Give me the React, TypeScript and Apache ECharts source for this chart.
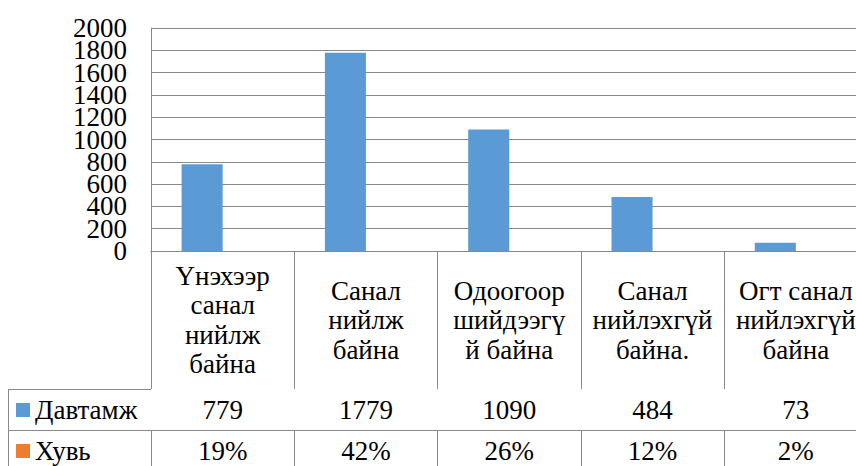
import React, { useEffect, useRef } from "react";
import * as echarts from "echarts";

const categories = [
  "Үнэхээр\nсанал\nнийлж\nбайна",
  "Санал\nнийлж\nбайна",
  "Одоогоор\nшийдээгү\nй байна",
  "Санал\nнийлэхгүй\nбайна.",
  "Огт санал\nнийлэхгүй\nбайна",
];
const davtamj = [779, 1779, 1090, 484, 73];
const huvi = [19, 42, 26, 12, 2];
const seriesNames = ["Давтамж", "Хувь"];
const yTicks = { min: 0, max: 2000, interval: 200 };
const yLabelsEven = [0, 400, 800, 1200, 1600, 2000];
const yLabelsOdd = [200, 600, 1000, 1400, 1800];

const FONT = "Liberation Serif";
const GRID = "#898989";

export default function App() {
  const ref = useRef<HTMLDivElement>(null);
  useEffect(() => {
    if (!ref.current) return;
    const chart = echarts.init(ref.current, null, { renderer: "svg" });
    const labelBase = {
      fontFamily: FONT,
      fontSize: 27,
      color: "#000",
      interval: 0,
      verticalAlign: "middle" as const,
    };
    const yLabel = (vals: number[]) => ({
      fontFamily: FONT,
      fontSize: 27,
      color: "#000",
      margin: 24,
      customValues: vals,
      showMinLabel: true,
      showMaxLabel: true,
      formatter: (v: number) => String(v),
    });
    chart.setOption({
      animation: false,
      textStyle: { fontFamily: FONT },
      grid: {
        left: 151,
        top: 28,
        right: 12.5,
        bottom: 215,
        containLabel: false,
        outerBoundsMode: "none",
      },
      legend: {
        orient: "vertical",
        left: 16,
        top: 396.5,
        padding: 0,
        itemGap: 14,
        itemWidth: 14,
        itemHeight: 14,
        icon: "rect",
        selectedMode: false,
        textStyle: { fontFamily: FONT, fontSize: 27, color: "#000", lineHeight: 27 },
        data: seriesNames,
      },
      xAxis: [
        {
          type: "category",
          data: categories,
          position: "bottom",
          axisLine: { show: true, lineStyle: { color: GRID, width: 1 } },
          axisTick: { show: true, length: 138, lineStyle: { color: GRID } },
          axisLabel: { ...labelBase, lineHeight: 29.5, margin: 69 },
        },
        {
          type: "category",
          data: categories,
          position: "bottom",
          offset: 138,
          axisLine: { show: true, lineStyle: { color: GRID, width: 1 } },
          axisTick: { show: true, length: 41, lineStyle: { color: GRID } },
          axisLabel: {
            ...labelBase,
            margin: 20.5,
            formatter: (_v: string, i: number) => String(davtamj[i]),
          },
        },
        {
          type: "category",
          data: categories,
          position: "bottom",
          offset: 179,
          axisLine: { show: true, lineStyle: { color: GRID, width: 1 } },
          axisTick: { show: true, length: 50, lineStyle: { color: GRID } },
          axisLabel: {
            ...labelBase,
            margin: 20.5,
            formatter: (_v: string, i: number) => `${huvi[i]}%`,
          },
        },
      ],
      yAxis: [
        {
          type: "value",
          position: "left",
          min: yTicks.min,
          max: yTicks.max,
          interval: yTicks.interval,
          axisLine: { show: true, lineStyle: { color: GRID } },
          axisTick: { show: false },
          splitLine: { show: true, lineStyle: { color: GRID, width: 1 } },
          axisLabel: yLabel(yLabelsEven),
        },
        {
          type: "value",
          position: "left",
          min: yTicks.min,
          max: yTicks.max,
          interval: yTicks.interval,
          axisLine: { show: false },
          axisTick: { show: false },
          splitLine: { show: false },
          axisLabel: yLabel(yLabelsOdd),
        },
      ],
      graphic: [
        { type: "line", shape: { x1: 8, y1: 389.5, x2: 151, y2: 389.5 }, style: { stroke: GRID, lineWidth: 1 } },
        { type: "line", shape: { x1: 8, y1: 430.5, x2: 151, y2: 430.5 }, style: { stroke: GRID, lineWidth: 1 } },
        { type: "line", shape: { x1: 8.5, y1: 389, x2: 8.5, y2: 470 }, style: { stroke: GRID, lineWidth: 1 } },
      ],
      series: [
        {
          name: seriesNames[0],
          type: "bar",
          data: davtamj,
          itemStyle: { color: "#5B9BD5" },
          barGap: "0%",
          barCategoryGap: "42.7%",
        },
        {
          name: seriesNames[1],
          type: "bar",
          data: huvi.map((v) => v / 100),
          itemStyle: { color: "#ED7D31" },
          barGap: "0%",
          barCategoryGap: "42.7%",
        },
      ],
    });
    return () => chart.dispose();
  }, []);
  return (
    <div style={{ position: "fixed", left: 0, top: 0, width: 856, height: 466, overflow: "hidden", background: "#fff" }}>
      <div ref={ref} style={{ width: 880, height: 466 }} />
    </div>
  );
}
